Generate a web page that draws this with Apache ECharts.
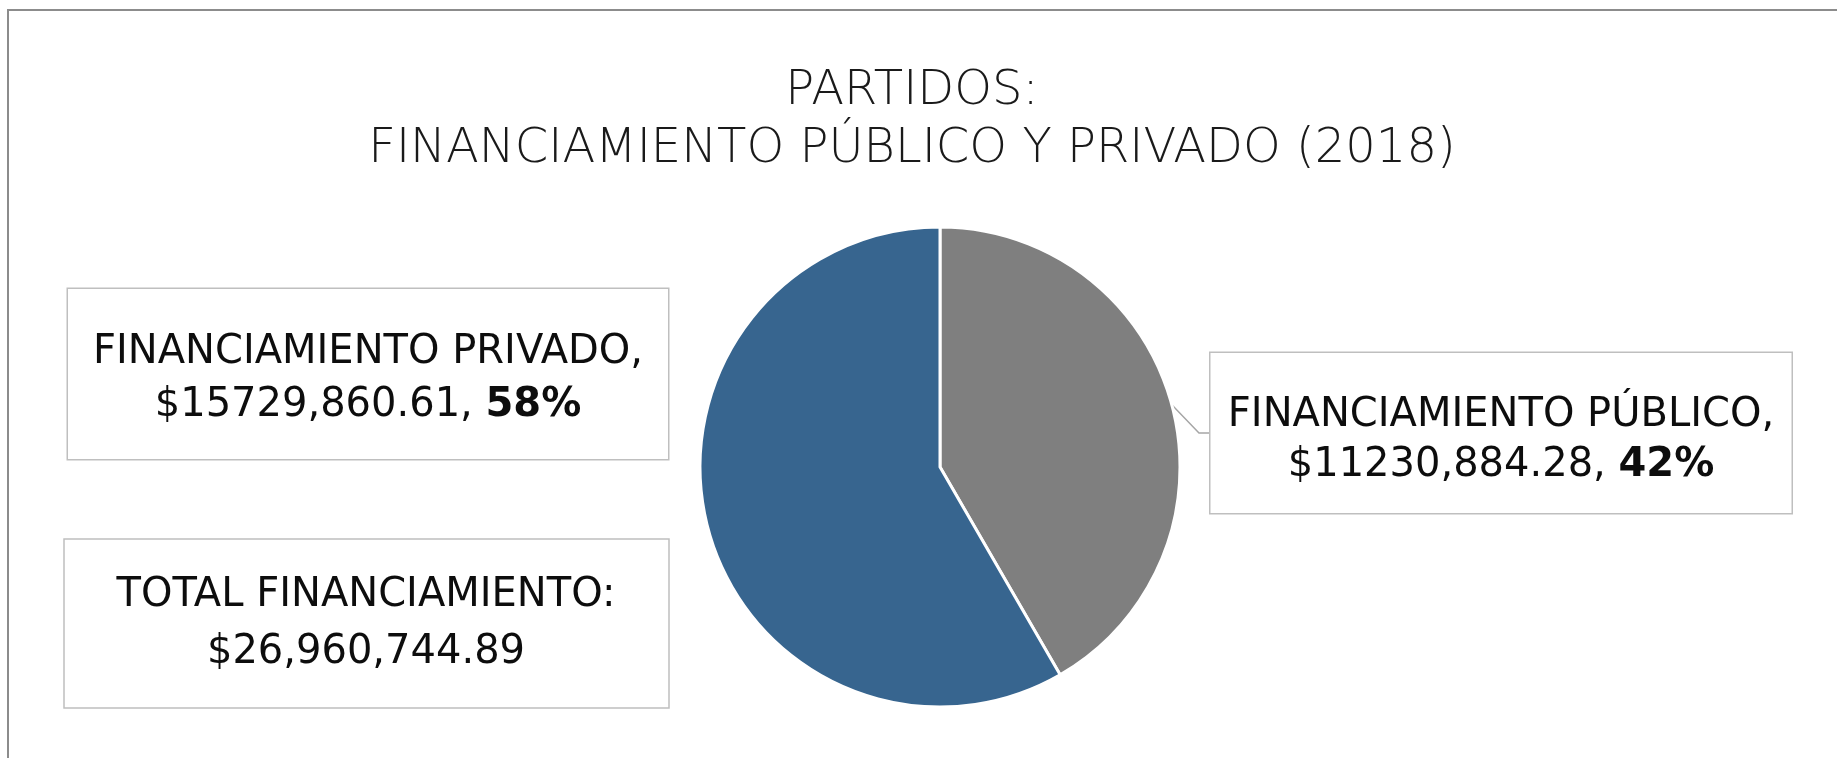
<!DOCTYPE html>
<html>
<head>
<meta charset="utf-8">
<script src="https://cdn.jsdelivr.net/npm/echarts@6/dist/echarts.min.js"></script>
<style>
  html, body { margin: 0; padding: 0; background: #fff; }
  #chart { width: 1837px; height: 758px; }
</style>
</head>
<body>
<div id="chart"></div>
<script>
// datos
var categories = ['FINANCIAMIENTO PÚBLICO', 'FINANCIAMIENTO PRIVADO'];
var amounts = [11230884.28, 15729860.61];
var amountLabels = ['$11230,884.28', '$15729,860.61'];
var sliceColors = ['#7f7f7f', '#37658f'];

var total = amounts.reduce(function (a, b) { return a + b; }, 0);
var totalLabel = '$' + total.toLocaleString('en-US', { minimumFractionDigits: 2, maximumFractionDigits: 2 });

var FONT = 'DejaVu Sans';

// cajas de etiqueta (centro, ancho)
var labelBoxes = [
  { cx: 1501, cy: 433, width: 561, lineHeight: 50, pad: [38, 10, 22, 10] },
  { cx: 368, cy: 374, width: 580, lineHeight: 53, pad: [37, 10, 27, 10] }
];

var pieData = categories.map(function (name, i) {
  var box = labelBoxes[i];
  return {
    name: name,
    value: amounts[i],
    itemStyle: { color: sliceColors[i] },
    label: {
      width: box.width,
      padding: box.pad,
      lineHeight: box.lineHeight,
      rich: {
        t: { fontFamily: FONT, fontSize: 40, color: '#0d0d0d', lineHeight: box.lineHeight },
        b: { fontFamily: FONT, fontSize: 40, fontWeight: 'bold', color: '#0d0d0d', lineHeight: box.lineHeight }
      }
    },
    labelLine: { show: i === 0 }
  };
});

var chart = echarts.init(document.getElementById('chart'));

var option = {
  animation: false,
  title: {
    text: 'PARTIDOS:\nFINANCIAMIENTO PÚBLICO Y PRIVADO (2018)',
    left: 907,
    top: 58,
    textAlign: 'center',
    textStyle: {
      fontFamily: FONT,
      fontSize: 48,
      fontWeight: 200,
      color: '#1a1a1a',
      lineHeight: 58
    }
  },
  graphic: [
    {
      type: 'rect',
      silent: true,
      shape: { x: 8, y: 10, width: 2000, height: 1000 },
      style: { fill: 'none', stroke: '#8c8c8c', lineWidth: 2 }
    },
    {
      type: 'rect',
      silent: true,
      shape: { x: 64, y: 539, width: 605, height: 169 },
      style: { fill: '#fff', stroke: '#bfbfbf', lineWidth: 1.5 }
    },
    {
      type: 'text',
      silent: true,
      x: 366,
      y: 624,
      style: {
        text: 'TOTAL FINANCIAMIENTO:\n' + totalLabel,
        font: '40px "' + FONT + '"',
        fill: '#0d0d0d',
        align: 'center',
        verticalAlign: 'middle',
        lineHeight: 57
      }
    }
  ],
  series: [
    {
      type: 'pie',
      center: [940, 467],
      radius: 240,
      startAngle: 90,
      clockwise: true,
      silent: true,
      percentPrecision: 0,
      itemStyle: { borderColor: '#fff', borderWidth: 3 },
      label: {
        show: true,
        position: 'outside',
        align: 'center',
        backgroundColor: '#fff',
        borderColor: '#bfbfbf',
        borderWidth: 1.5,
        formatter: function (p) {
          return '{t|' + p.name + ',}\n{t|' + amountLabels[p.dataIndex] + ', }{b|' + p.percent + '%}';
        }
      },
      labelLine: {
        show: true,
        length: 10,
        length2: 10,
        lineStyle: { color: '#a6a6a6', width: 1.5 }
      },
      labelLayout: function (params) {
        var box = labelBoxes[params.dataIndex];
        return { x: box.cx, y: box.cy, align: 'center', verticalAlign: 'middle' };
      },
      data: pieData
    }
  ]
};

chart.setOption(option);
</script>
</body>
</html>
